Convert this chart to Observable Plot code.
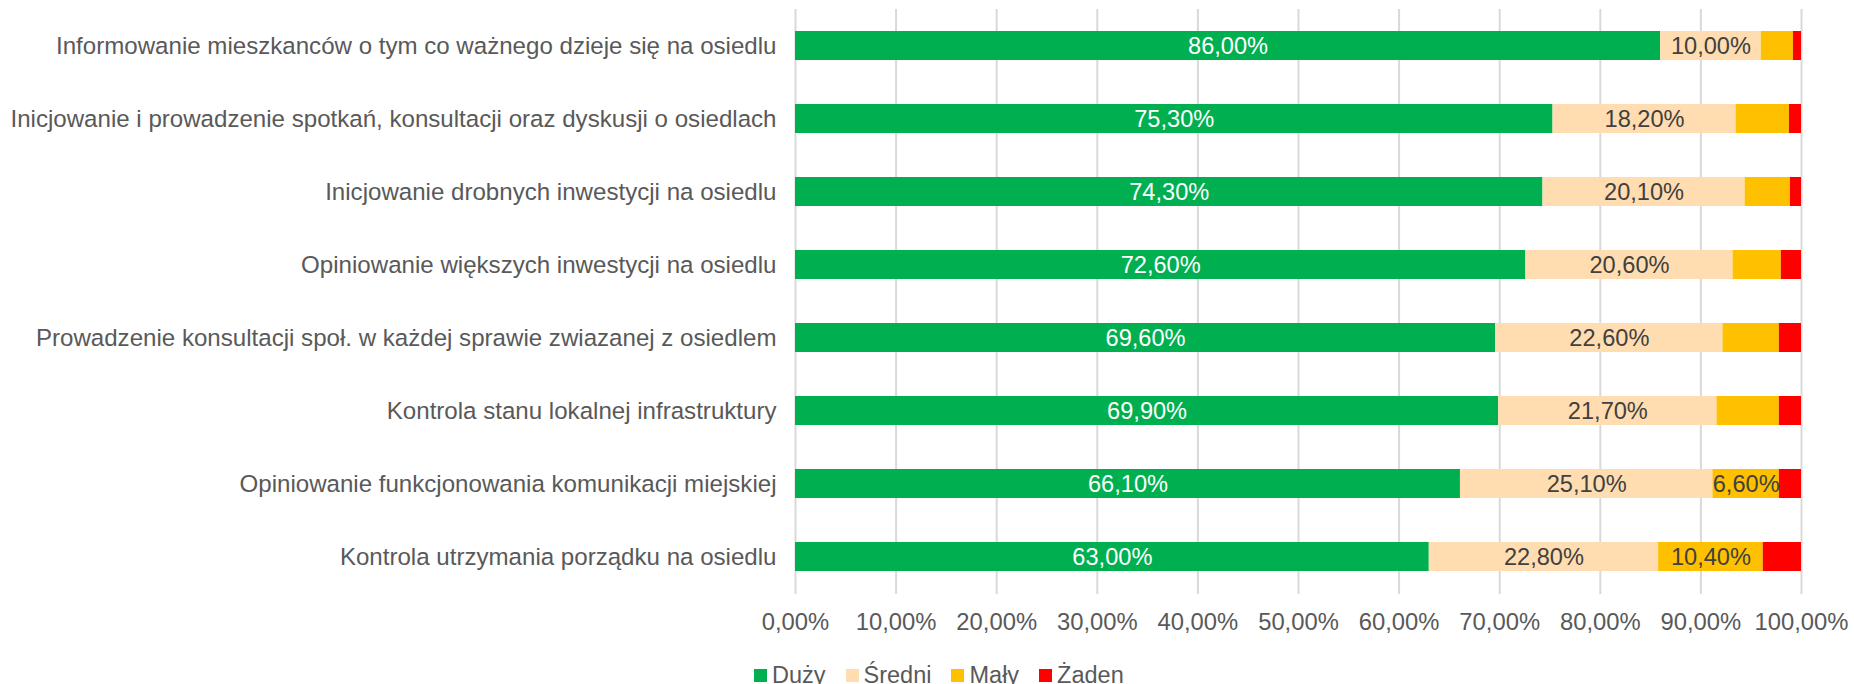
<!DOCTYPE html>
<html>
<head>
<meta charset="utf-8">
<script src="https://cdn.jsdelivr.net/npm/d3@7"></script>
<script src="https://cdn.jsdelivr.net/npm/@observablehq/plot@0.6"></script>
<style>
  html, body { margin: 0; padding: 0; background: #fff; }
  #wrap { position: relative; width: 1854px; height: 684px; font-family: "Liberation Sans", Arial, sans-serif; }
  #legend { position: absolute; left: 754px; top: 661px; height: 28px; display: flex; align-items: center; font-size: 23.5px; color: #595959; }
  #legend .item { display: flex; align-items: center; margin-right: 20px; }
  #legend .sw { width: 13px; height: 13px; margin-right: 5px; }
</style>
</head>
<body>
<div id="wrap"><div id="chart"></div><div id="legend"></div></div>
<script>
const categories = [
  "Informowanie mieszkanców o tym co ważnego dzieje się na osiedlu",
  "Inicjowanie i prowadzenie spotkań, konsultacji oraz dyskusji o osiedlach",
  "Inicjowanie drobnych inwestycji na osiedlu",
  "Opiniowanie większych inwestycji na osiedlu",
  "Prowadzenie konsultacji społ. w każdej sprawie zwiazanej z osiedlem",
  "Kontrola stanu lokalnej infrastruktury",
  "Opiniowanie funkcjonowania komunikacji miejskiej",
  "Kontrola utrzymania porządku na osiedlu"
];
const seriesNames = ["Duży", "Średni", "Mały", "Żaden"];
const seriesColors = ["#00B050", "#FFDDB1", "#FFC000", "#FF0000"];
const duzy   = [86.0, 75.3, 74.3, 72.6, 69.6, 69.9, 66.1, 63.0];
const sredni = [10.0, 18.2, 20.1, 20.6, 22.6, 21.7, 25.1, 22.8];
const maly   = [3.2, 5.3, 4.5, 4.8, 5.6, 6.2, 6.6, 10.4];
const zaden  = [0.8, 1.2, 1.1, 2.0, 2.2, 2.2, 2.2, 3.8];
// which Mały values carry a data label in the original
const malyLabeled = [false, false, false, false, false, false, true, true];
const xTicks = [0, 10, 20, 30, 40, 50, 60, 70, 80, 90, 100];

const fmt = v => d3.format(".2f")(v).replace(".", ",") + "%";

const seriesValues = [duzy, sredni, maly, zaden];
const data = [];
categories.forEach((c, i) => {
  seriesNames.forEach((s, j) => {
    const v = seriesValues[j][i];
    const labeled = j < 2 || (j === 2 && malyLabeled[i]);
    data.push({category: c, series: s, value: v, labeled});
  });
});

const stackOpts = {x: "value", y: "category", z: "series", order: seriesNames};

const chart = Plot.plot({
  width: 1854,
  height: 650,
  marginLeft: 795,
  marginRight: 53,
  marginTop: 9,
  marginBottom: 56,
  style: {fontFamily: "'Liberation Sans', Arial, sans-serif", fontSize: "24px", color: "#595959", background: "#fff"},
  x: {domain: [0, 100]},
  y: {domain: categories, paddingInner: 0.6, paddingOuter: 0.3},
  color: {domain: seriesNames, range: seriesColors},
  marks: [
    Plot.gridX(xTicks, {stroke: "#D9D9D9", strokeOpacity: 1, strokeWidth: 2}),
    Plot.barX(data, Plot.stackX({...stackOpts, fill: "series"})),
    Plot.text(data, Plot.stackX({...stackOpts, text: d => (d.series === "Duży" ? fmt(d.value) : ""), fill: "white", fontSize: 23.6})),
    Plot.text(data, Plot.stackX({...stackOpts, text: d => (d.series !== "Duży" && d.labeled ? fmt(d.value) : ""), fill: "#404040", fontSize: 23.6})),
    Plot.axisX({ticks: xTicks, tickFormat: fmt, tickSize: 0, tickPadding: 19, label: null, fill: "#595959", fontSize: 23.8}),
    Plot.axisY({tickSize: 0, tickPadding: 19, label: null, fill: "#595959", fontSize: 24.1})
  ]
});
document.getElementById("chart").appendChild(chart);

const legend = document.getElementById("legend");
seriesNames.forEach((s, j) => {
  const item = document.createElement("div");
  item.className = "item";
  const sw = document.createElement("div");
  sw.className = "sw";
  sw.style.background = seriesColors[j];
  const t = document.createElement("span");
  t.textContent = s;
  item.appendChild(sw);
  item.appendChild(t);
  legend.appendChild(item);
});
</script>
</body>
</html>
